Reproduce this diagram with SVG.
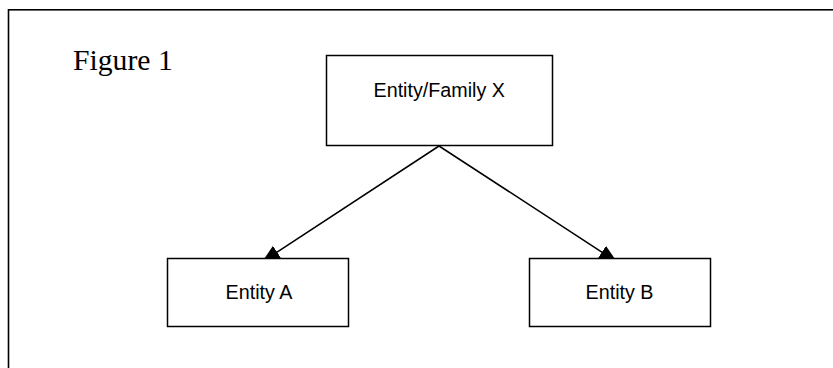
<svg xmlns="http://www.w3.org/2000/svg" width="833" height="368" viewBox="0 0 833 368">
<defs>
<marker id="arr" viewBox="0 0 18 15" refX="18" refY="7.5" markerWidth="18" markerHeight="15" markerUnits="userSpaceOnUse" orient="auto">
<path d="M0,0 L18,7.5 L0,15 Z" fill="#000"/>
</marker>
<style>
.box{fill:#fff;stroke:#000;stroke-width:1.5}
.lbl{font-family:"Liberation Sans",Arial,sans-serif;font-size:19.7px;fill:#000;text-anchor:middle}
.conn{stroke:#000;stroke-width:1.5;fill:none}
</style>
</defs>
<rect width="833" height="368" fill="#fff"/>
<rect x="8.5" y="9.8" width="840" height="380" fill="none" stroke="#000" stroke-width="1.6"/>
<text x="73" y="70" font-family="'Liberation Serif','Times New Roman',serif" font-size="29.7" fill="#000">Figure 1</text>
<g id="connectors">
<line class="conn" x1="439" y1="146" x2="262" y2="262" marker-end="url(#arr)"/>
<line class="conn" x1="439" y1="146" x2="617" y2="262" marker-end="url(#arr)"/>
</g>
<g id="nodeX">
<rect class="box" x="326.5" y="55.5" width="226" height="90"/>
<text class="lbl" x="439.2" y="96.5">Entity/Family X</text>
</g>
<g id="nodeA">
<rect class="box" x="167.5" y="258.5" width="181" height="68"/>
<text class="lbl" x="259" y="299">Entity A</text>
</g>
<g id="nodeB">
<rect class="box" x="529.5" y="258.5" width="181" height="68"/>
<text class="lbl" x="619.5" y="298.5">Entity B</text>
</g>
</svg>
